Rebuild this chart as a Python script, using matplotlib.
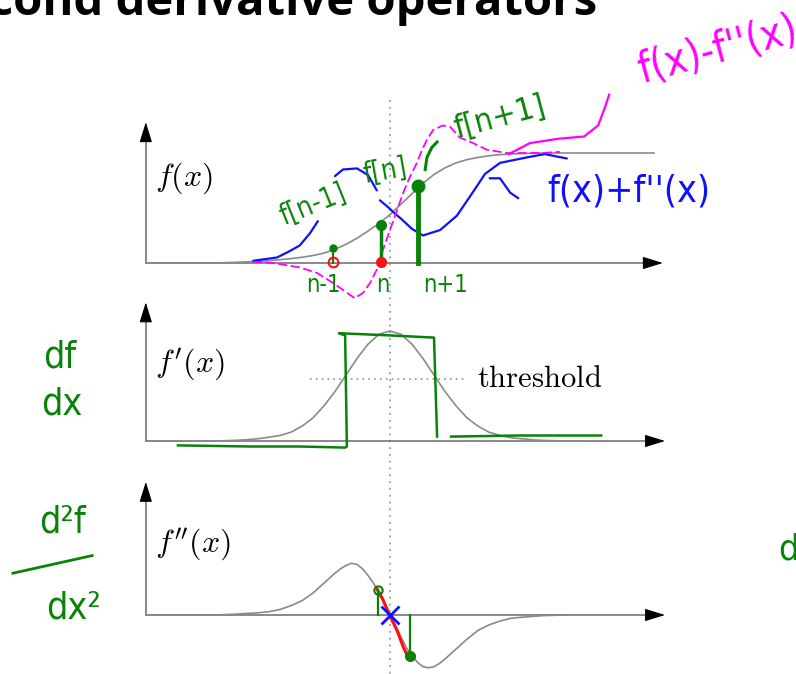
import numpy as np
import matplotlib
matplotlib.use("Agg")
import matplotlib.pyplot as plt

plt.rcParams["mathtext.fontset"] = "cm"

# x in units of the edge width (edge centred at 0); y scaled so the step height is 1
x_f = [-5.55, -4.0, -3.5, -3.0, -2.75, -2.5, -2.25, -2.0, -1.75, -1.5, -1.25, -1.0,
       -0.75, -0.5, -0.25, 0.0, 0.25, 0.5, 0.75, 1.0, 1.25, 1.5, 1.75, 2.0, 2.25,
       2.5, 2.75, 3.0, 3.5, 6.0]
f_vals = [0.0, 0.0, 0.006, 0.015, 0.02, 0.03, 0.04, 0.052, 0.068, 0.09, 0.125, 0.17,
          0.225, 0.29, 0.36, 0.44, 0.535, 0.63, 0.725, 0.805, 0.865, 0.91, 0.94, 0.96,
          0.975, 0.985, 0.99, 0.995, 1.0, 1.0]

x_d1 = [-5.55, -4.0, -3.75, -3.5, -3.25, -3.0, -2.75, -2.5, -2.25, -2.0, -1.75, -1.5,
        -1.25, -1.0, -0.75, -0.5, -0.25, 0.0, 0.25, 0.5, 0.75, 1.0, 1.25, 1.5, 1.75,
        2.0, 2.25, 2.5, 2.75, 3.0, 3.25, 3.5, 4.0, 4.5]
d1_vals = [0.0, 0.0, 0.003, 0.006, 0.012, 0.02, 0.035, 0.05, 0.08, 0.135, 0.21, 0.32,
           0.45, 0.60, 0.75, 0.88, 0.97, 1.0, 0.97, 0.88, 0.75, 0.60, 0.45, 0.32, 0.21,
           0.135, 0.08, 0.05, 0.03, 0.02, 0.01, 0.005, 0.0, 0.0]

x_d2 = [-5.55, -4.0, -3.5, -3.0, -2.75, -2.5, -2.25, -2.0, -1.75, -1.5, -1.25, -1.125,
        -1.0, -0.875, -0.75, -0.625, -0.5, -0.375, -0.25, -0.125, 0.0, 0.125, 0.25,
        0.375, 0.5, 0.625, 0.75, 0.875, 1.0, 1.125, 1.25, 1.5, 1.75, 2.0, 2.25, 2.5,
        2.75, 3.0, 3.5, 4.0]
d2_vals = [0.0, 0.0, 0.008, 0.02, 0.03, 0.05, 0.085, 0.13, 0.2, 0.29, 0.38, 0.42,
           0.45, 0.47, 0.46, 0.42, 0.36, 0.29, 0.2, 0.1, 0.0, -0.1, -0.2, -0.3, -0.37,
           -0.43, -0.47, -0.48, -0.47, -0.44, -0.4, -0.31, -0.22, -0.14, -0.09, -0.055,
           -0.03, -0.02, -0.005, 0.0]

threshold = 0.564
samples_x = [-1.3, -0.2, 0.64]          # n-1, n, n+1
samples_f = [0.14, 0.35, 0.70]

# hand-drawn f + f'' (blue), in pieces
plus_x = [[-3.11, -2.57, -2.27, -2.05, -1.82, -1.64],
          [-1.25, -1.07, -0.75, -0.5, -0.30],
          [-0.23, -0.05, 0.11, 0.23, 0.5, 0.75, 1.14, 1.52, 1.86, 2.16, 2.5, 3.11, 3.52, 4.02]]
plus_y = [[0.02, 0.05, 0.11, 0.16, 0.27, 0.38],
          [0.79, 0.85, 0.86, 0.80, 0.66],
          [0.57, 0.51, 0.45, 0.41, 0.31, 0.25, 0.30, 0.43, 0.63, 0.81, 0.91, 0.96, 0.99, 0.95]]
hook_x = [2.27, 2.5, 2.73, 2.91]
hook_y = [0.77, 0.77, 0.64, 0.59]

# hand-drawn f - f'' (magenta)
minus_x = [-3.11, -2.66, -2.05, -1.66, -1.3, -0.98, -0.8, -0.61, -0.45, -0.3, -0.16, 0.0,
           0.16, 0.3, 0.45, 0.61, 0.73, 0.84, 0.98, 1.2, 1.36, 1.59, 1.89, 2.2, 2.66,
           3.41, 3.86]
minus_y = [0.01, 0.0, -0.04, -0.09, -0.18, -0.27, -0.32, -0.27, -0.18, -0.06, 0.12, 0.30,
           0.48, 0.64, 0.78, 0.91, 1.03, 1.12, 1.21, 1.25, 1.24, 1.14, 1.09, 1.03, 1.0,
           1.0, 1.01]
lead_x = [2.7, 3.18, 3.84, 4.41, 4.73, 4.89, 4.98]
lead_y = [0.99, 1.09, 1.13, 1.15, 1.25, 1.42, 1.53]
arc_x = [0.8, 0.84, 0.95, 1.07]
arc_y = [0.85, 0.96, 1.05, 1.10]

# thresholded f' (green box)
box_x = [-4.82, -3.18, -2.05, -1.02, -0.98, -1.02, -1.16, 0.0, 1.0, 1.07]
box_y = [-0.04, -0.05, -0.05, -0.06, -0.05, 0.96, 0.98, 0.96, 0.94, 0.04]
tail_x = [1.39, 2.95, 4.8]
tail_y = [0.04, 0.05, 0.05]

# zero crossing of f''
cross_x = [-0.3, -0.16, 0.0, 0.16, 0.3, 0.41]
cross_y = [0.24, 0.14, -0.01, -0.14, -0.29, -0.38]
d2_samples_x = [-0.27, 0.45]
d2_samples_y = [0.23, -0.37]

GREEN = "#0a820a"
GRAY = "#8a8a8a"
AXIS = "#6a6a6a"

fig = plt.figure(figsize=(7.96, 6.74), dpi=100)
W, H = 796, 674
unit_x, unit_y = 44.0, 110.0
x0 = 390.0


def panel(base):
    ax = fig.add_axes([0, 0, 1, 1])
    ax.set_xlim(-x0 / unit_x, (W - x0) / unit_x)
    ax.set_ylim((base - H) / unit_y, base / unit_y)
    ax.axis("off")
    ax.patch.set_alpha(0)
    return ax


def axes_arrows(ax, top, right):
    ax.plot([-5.55, -5.55], [0, top - 0.05], color=AXIS, lw=1.1)
    ax.plot([-5.55, right - 0.2], [0, 0], color=AXIS, lw=1.1)
    kw = dict(arrowstyle="-|>,head_length=0.9,head_width=0.28", color="black",
              lw=0.8, shrinkA=0, shrinkB=0, mutation_scale=14)
    ax.annotate("", xy=(-5.55, top), xytext=(-5.55, top - 0.12), arrowprops=kw)
    ax.annotate("", xy=(right, 0), xytext=(right - 0.4, 0), arrowprops=kw)


ax1 = panel(263)
ax2 = panel(441)
ax3 = panel(615)

fig.text(597 / W, 1 - 15 / H, "Second derivative operators", ha="right", va="baseline",
         fontsize=34, fontweight="bold", family="Open Sans")

# vertical guide through the edge centre
ax1.plot([0, 0], [1.48, -3.74], color="#a8a8a8", lw=1.4, ls=(0, (1, 2.5)))

# f(x)
axes_arrows(ax1, 1.28, 6.2)
ax1.plot(x_f, f_vals, color=GRAY, lw=1.2)
ax1.text(-5.35, 0.77, "$f(x)$", fontsize=23, va="center")
for xs, ys in zip(plus_x, plus_y):
    ax1.plot(xs, ys, color="#1010ff", lw=1.6, solid_capstyle="round")
ax1.plot(hook_x, hook_y, color="#1010ff", lw=1.6)
ax1.plot(minus_x, minus_y, color="#ff00ff", lw=1.3, ls=(0, (5, 2)))
ax1.plot(lead_x, lead_y, color="#ff00ff", lw=1.6)
ax1.plot(arc_x, arc_y, color=GREEN, lw=2.2)
for sx, sf, ms, lw in zip(samples_x, samples_f, [5, 7, 9], [1.5, 2.5, 3.5]):
    ax1.plot([sx, sx], [0, sf], color=GREEN, lw=lw)
    ax1.plot(sx, sf, "o", color=GREEN, ms=ms)
ax1.plot(samples_x[0], 0.01, "o", mfc="none", mec="#ff1010", ms=7, mew=1.5)
ax1.plot(samples_x[1], 0.01, "o", color="#ff1010", ms=7)

hand = dict(family="DejaVu Sans", fontstretch="condensed", color=GREEN,
            ha="center", va="center")
ax1.text(-1.75, 0.53, "f[n-1]", fontsize=20, rotation=22, **hand)
ax1.text(-0.11, 0.83, "f[n]", fontsize=20, rotation=10, **hand)
ax1.text(2.5, 1.32, "f[n+1]", fontsize=23, rotation=15, **hand)
ax1.text(-1.52, -0.2, "n-1", fontsize=17, **hand)
ax1.text(-0.16, -0.2, "n", fontsize=17, **hand)
ax1.text(1.27, -0.2, "n+1", fontsize=17, **hand)
ax1.text(5.43, 0.65, "f(x)+f''(x)", fontsize=27, **{**hand, "color": "#1010ff"})
ax1.text(7.45, 1.93, "f(x)-f''(x)", fontsize=30, rotation=15,
         **{**hand, "color": "#ff00ff"})

# f'(x)
axes_arrows(ax2, 1.26, 6.25)
ax2.plot(x_d1, d1_vals, color=GRAY, lw=1.2)
ax2.plot([-1.82, 1.70], [threshold, threshold], color="#909090", lw=1.2,
         ls=(0, (1, 2.5)))
ax2.text(-5.35, 0.69, "$f'(x)$", fontsize=23, va="center")
ax2.text(1.98, threshold, r"$\mathrm{threshold}$", fontsize=22, va="center")
ax2.plot(box_x, box_y, color=GREEN, lw=1.8)
ax2.plot(tail_x, tail_y, color=GREEN, lw=1.8)
ax2.text(-7.5, 0.76, "df", fontsize=27, **hand)
ax2.text(-7.45, 0.33, "dx", fontsize=27, **hand)

# f''(x)
axes_arrows(ax3, 1.21, 6.25)
ax3.plot(x_d2, d2_vals, color=GRAY, lw=1.2)
ax3.text(-5.35, 0.64, "$f''(x)$", fontsize=23, va="center")
ax3.plot(cross_x, cross_y, color="#ff1010", lw=2.2)
for sx, sy in zip(d2_samples_x, d2_samples_y):
    ax3.plot([sx, sx], [0, sy], color=GREEN, lw=1.6)
ax3.plot(d2_samples_x[0], d2_samples_y[0], "o", mfc="none", mec=GREEN, ms=6, mew=1.5)
ax3.plot(d2_samples_x[1], d2_samples_y[1], "o", color=GREEN, ms=7)
ax3.plot(0, 0, "x", color="#1010ff", ms=13, mew=2)
ax3.text(-7.45, 0.84, "d²f", fontsize=27, **hand)
ax3.plot([-8.57, -6.77], [0.38, 0.54], color=GREEN, lw=2)
ax3.text(-7.2, 0.06, "dx²", fontsize=27, **hand)
ax3.text(9.05, 0.6, "d", fontsize=26, **hand)

fig.savefig("out.png", dpi=100)
